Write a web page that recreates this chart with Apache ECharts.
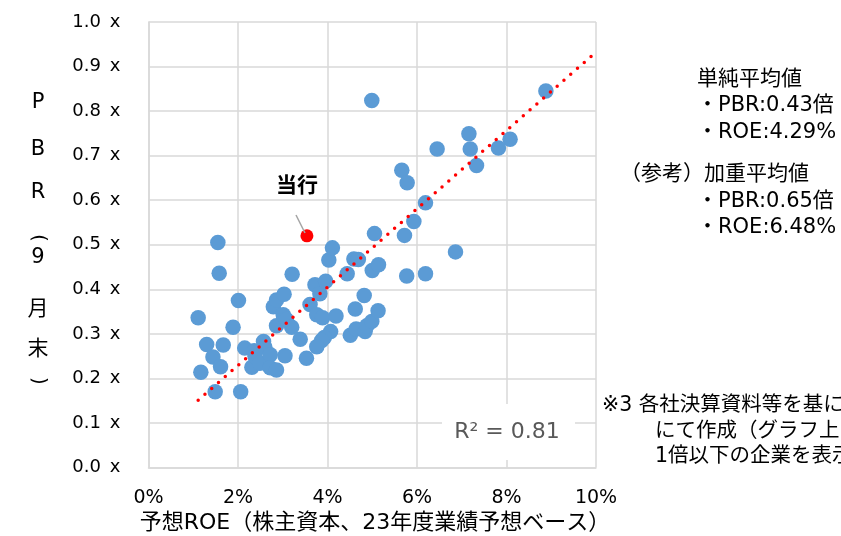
<!DOCTYPE html>
<html><head><meta charset="utf-8">
<script src="https://cdn.jsdelivr.net/npm/echarts@6/dist/echarts.min.js"></script>
<style>html,body{margin:0;padding:0;background:#fff}#c{width:841px;height:536px}</style>
</head><body><div id="c"></div>
<script>
// Forecast ROE (%) and PBR (x) per company
const roeX = [1.11,1.17,1.30,1.44,1.49,1.55,1.58,1.61,1.67,1.89,2.01,2.06,2.15,2.31,2.36,2.38,2.49,2.57,2.60,2.72,
  2.72,2.86,2.79,2.86,2.86,3.01,3.08,3.03,3.05,3.20,3.21,3.39,3.53,3.61,3.72,3.83,3.76,3.89,3.96,4.03,
  4.11,4.19,4.07,3.93,3.87,3.76,4.44,4.59,4.69,4.82,4.62,4.51,4.64,4.84,4.88,4.99,5.13,5.00,5.14,5.05,
  5.77,6.19,5.72,4.99,8.88,8.08,7.82,7.16,7.19,7.33,6.45,5.66,5.78,6.19,5.93,6.86];
const pbrY = [0.336,0.214,0.276,0.248,0.170,0.505,0.436,0.226,0.275,0.315,0.375,0.170,0.268,0.225,0.262,0.249,0.234,0.283,0.270,0.253,
  0.224,0.219,0.361,0.376,0.318,0.343,0.332,0.389,0.251,0.315,0.434,0.288,0.245,0.366,0.410,0.390,0.343,0.336,0.418,0.466,
  0.493,0.340,0.305,0.292,0.285,0.271,0.435,0.468,0.467,0.386,0.356,0.297,0.311,0.305,0.318,0.328,0.352,0.442,0.455,0.525,
  0.430,0.435,0.521,0.824,0.845,0.737,0.717,0.749,0.715,0.678,0.715,0.667,0.639,0.594,0.552,0.484];
// Own bank
const ownX = [3.54];
const ownY = [0.520];
// Linear trendline endpoints
const trendX = [1.11, 9.94];
const trendY = [0.151, 0.927];
// Axis ticks
const xTicks = [0,2,4,6,8,10];
const yTicks = [0,0.1,0.2,0.3,0.4,0.5,0.6,0.7,0.8,0.9,1.0];
const r2Text = 'R² = 0.81';
const note1 = ['単純平均値','・PBR:0.43倍','・ROE:4.29%'];
const note2 = ['（参考）加重平均値','・PBR:0.65倍','・ROE:6.48%'];
const footnote = ['※3 各社決算資料等を基に当行','にて作成（グラフ上はPBR','1倍以下の企業を表示）'];
const yName = ['P','B','R','(','9','月','末',')'];
const xName = '予想ROE（株主資本、23年度業績予想ベース）';

const FAM = 'DejaVu Sans, Noto Sans CJK JP, sans-serif';
const FONT = FAM;
const chart = echarts.init(document.getElementById('c'), null, {renderer:'canvas'});
const gridCol = '#d9d9d9';

const graphics = [];
// R² box
graphics.push({type:'rect', shape:{x:442,y:404,width:133,height:56}, style:{fill:'#fff'}, z:5});
graphics.push({type:'text', x:507, y:432, style:{text:r2Text, font:'22px '+FONT, fill:'#595959', align:'center', verticalAlign:'middle'}, z:6});
// own bank label
graphics.push({type:'text', x:297, y:187, style:{text:'当行', font:'bold 21px '+FONT, fill:'#000', align:'center', verticalAlign:'middle'}, z:6});
graphics.push({type:'line', shape:{x1:296,y1:215,x2:305,y2:233}, style:{stroke:'#a6a6a6', lineWidth:1.5}, z:6});
// notes
const noteY1 = [80,106,133], noteY2 = [175,202,228];
graphics.push({type:'text', x:697, y:noteY1[0], style:{text:note1[0], font:'21px '+FONT, fill:'#000', verticalAlign:'middle'}});
graphics.push({type:'text', x:697, y:noteY1[1], style:{text:note1[1], font:'21px '+FONT, fill:'#000', verticalAlign:'middle'}});
graphics.push({type:'text', x:697, y:noteY1[2], style:{text:note1[2], font:'21px '+FONT, fill:'#000', verticalAlign:'middle'}});
graphics.push({type:'text', x:620, y:noteY2[0], style:{text:note2[0], font:'21px '+FONT, fill:'#000', verticalAlign:'middle'}});
graphics.push({type:'text', x:697, y:noteY2[1], style:{text:note2[1], font:'21px '+FONT, fill:'#000', verticalAlign:'middle'}});
graphics.push({type:'text', x:697, y:noteY2[2], style:{text:note2[2], font:'21px '+FONT, fill:'#000', verticalAlign:'middle'}});
// footnote
graphics.push({type:'text', x:602, y:406, style:{text:footnote[0], font:'20.5px '+FONT, fill:'#000', verticalAlign:'middle'}});
graphics.push({type:'text', x:655, y:432, style:{text:footnote[1], font:'20.5px '+FONT, fill:'#000', verticalAlign:'middle'}});
graphics.push({type:'text', x:655, y:457, style:{text:footnote[2], font:'20.5px '+FONT, fill:'#000', verticalAlign:'middle'}});
// y axis name, stacked characters (parentheses turned for vertical writing)
const yNamePos = [103,150,193,238,258,310,350,381];
yName.forEach((ch,i)=>{
  const isParen = (ch==='(' || ch===')');
  graphics.push({type:'text', x:38, y:yNamePos[i], rotation: isParen ? -Math.PI/2 : 0,
    style:{text:ch, font:(isParen ? '20px ' : '21px ')+FONT, fill:'#000', align:'center', verticalAlign:'middle'}});
});
// x axis name
graphics.push({type:'text', x:375, y:523, style:{text:xName, font:'22px '+FONT, fill:'#000', align:'center', verticalAlign:'middle'}});

chart.setOption({
  animation:false,
  backgroundColor:'#fff',
  textStyle:{fontFamily:FAM},
  grid:{left:148.5, right:245, top:22, bottom:68.5, containLabel:false},
  xAxis:{type:'value', min:xTicks[0], max:xTicks[xTicks.length-1], interval:2,
    axisLine:{show:true, lineStyle:{color:gridCol, width:1.5}},
    axisTick:{show:false},
    axisLabel:{formatter:v=>v+'%', fontSize:19, fontFamily:FAM, color:'#000', margin:21},
    splitLine:{show:true, lineStyle:{color:gridCol, width:1.5}}},
  yAxis:{type:'value', min:yTicks[0], max:yTicks[yTicks.length-1], interval:0.1,
    axisLine:{show:true, lineStyle:{color:gridCol, width:1.5}},
    axisTick:{show:false},
    axisLabel:{formatter:v=>v.toFixed(1)+'\u2002x', fontSize:18, fontFamily:FAM, color:'#000', margin:28},
    splitLine:{show:true, lineStyle:{color:gridCol, width:1.5}}},
  series:[
    {type:'scatter', data:roeX.map((x,i)=>[x,pbrY[i]]), symbolSize:15.5,
      itemStyle:{color:'#5B9BD5', opacity:1}, z:2},
    {type:'line', data:trendX.map((x,i)=>[x,trendY[i]]), symbol:'none',
      lineStyle:{color:'#ff0000', width:3.5, type:[0,9], cap:'round'}, z:3},
    {type:'scatter', data:ownX.map((x,i)=>[x,ownY[i]]), symbolSize:13,
      itemStyle:{color:'#ff0000', opacity:1}, z:4}
  ],
  graphic:graphics
});
</script>
</body></html>
